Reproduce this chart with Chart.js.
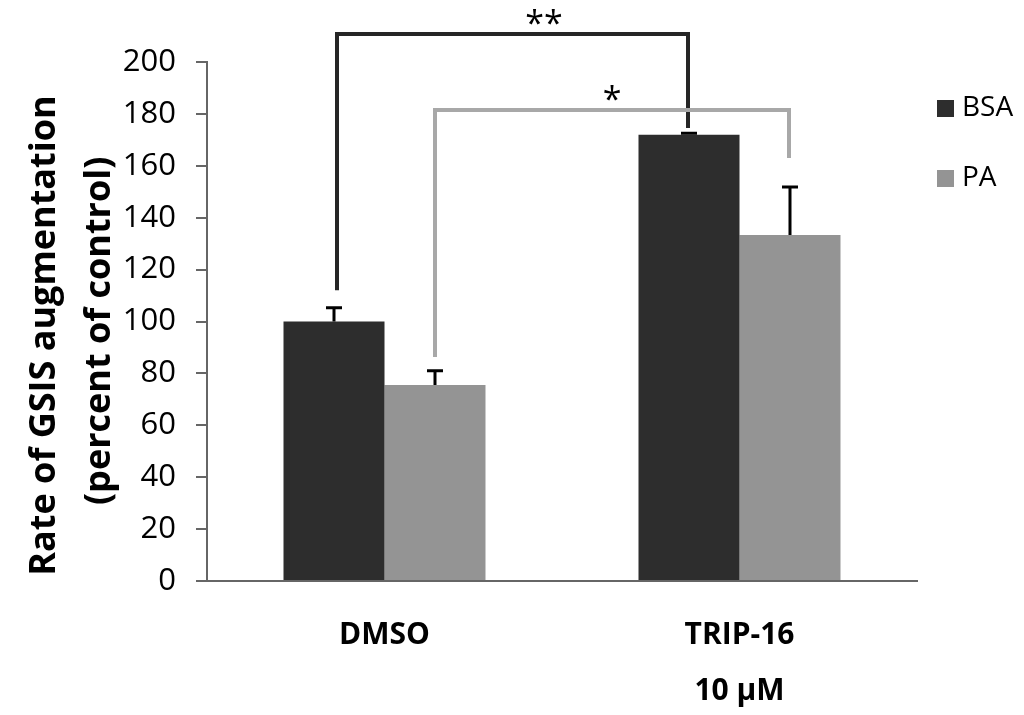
<!DOCTYPE html>
<html>
<head>
<meta charset="utf-8">
<script src="https://cdn.jsdelivr.net/npm/chart.js@4.4.0/dist/chart.umd.min.js"></script>
<style>
  html, body { margin: 0; padding: 0; background: #fff; }
  #wrap { width: 1024px; height: 715px; }
</style>
</head>
<body>
<div id="wrap"><canvas id="gsis" width="1024" height="715"></canvas></div>
<script>
// data
const groups = [['DMSO'], ['TRIP-16', '10 μM']];
const seriesNames = ['BSA', 'PA'];
const bsaValues = [100, 172];
const paValues = [75.5, 133.3];
const bsaErr = [5.3, 0.5];
const paErr = [5.5, 18.5];
const yTicks = [0, 20, 40, 60, 80, 100, 120, 140, 160, 180, 200];

// significance brackets: [dataset, bar] at each end, heights in axis units
const sigFrom = [[0, 0], [1, 0]];
const sigTo = [[0, 1], [1, 1]];
const sigLeftY = [112, 86.3];
const sigTopY = [210.8, 181.5];
const sigRightY = [174.6, 163];
const sigMarks = ['**', '*'];

const barColors = ['#2d2d2d', '#949494'];
const sigColors = ['#262626', '#a8a8a8'];
const sigMarkAt = [0.59, 0.5]; // where the stars sit along each bracket
const errSets = [bsaErr, paErr];
const FONT = "'Open Sans', 'Noto Sans', sans-serif";

const errorBars = {
  id: 'errorBars',
  afterDatasetsDraw(chart) {
    const ctx = chart.ctx;
    const y = chart.scales.y;
    ctx.save();
    ctx.strokeStyle = '#000';
    ctx.lineWidth = 3;
    chart.data.datasets.forEach((ds, di) => {
      const meta = chart.getDatasetMeta(di);
      meta.data.forEach((bar, i) => {
        const top = y.getPixelForValue(ds.data[i] + errSets[di][i]);
        ctx.beginPath();
        ctx.moveTo(bar.x, bar.y);
        ctx.lineTo(bar.x, top);
        ctx.moveTo(bar.x - 8, top);
        ctx.lineTo(bar.x + 8, top);
        ctx.stroke();
      });
    });
    ctx.restore();
  }
};

const brackets = {
  id: 'brackets',
  afterDatasetsDraw(chart) {
    const ctx = chart.ctx;
    const y = chart.scales.y;
    ctx.save();
    sigMarks.forEach((mark, k) => {
      const a = chart.getDatasetMeta(sigFrom[k][0]).data[sigFrom[k][1]];
      const b = chart.getDatasetMeta(sigTo[k][0]).data[sigTo[k][1]];
      const x1 = a.x + (k === 0 ? 3 : 0);
      const x2 = b.x - 1;
      const top = y.getPixelForValue(sigTopY[k]);
      ctx.strokeStyle = sigColors[k];
      ctx.lineWidth = 4;
      ctx.beginPath();
      ctx.moveTo(x1, y.getPixelForValue(sigLeftY[k]));
      ctx.lineTo(x1, top);
      ctx.lineTo(x2, top);
      ctx.lineTo(x2, y.getPixelForValue(sigRightY[k]));
      ctx.stroke();
      ctx.fillStyle = '#000';
      ctx.font = '34px ' + FONT;
      ctx.textAlign = 'center';
      ctx.textBaseline = 'bottom';
      ctx.fillText(mark, x1 + (x2 - x1) * sigMarkAt[k], top + 8);
    });
    ctx.restore();
  }
};

// legend drawn at the right of the plot from the dataset labels and colours
const sideLegend = {
  id: 'sideLegend',
  afterDraw(chart) {
    const ctx = chart.ctx;
    const area = chart.chartArea;
    ctx.save();
    ctx.font = '28px ' + FONT;
    ctx.textBaseline = 'middle';
    ctx.textAlign = 'left';
    chart.data.datasets.forEach((ds, i) => {
      const cy = 108 + i * 70;
      ctx.fillStyle = ds.backgroundColor;
      ctx.fillRect(area.right + 20, cy - 8, 17, 17);
      ctx.fillStyle = '#000';
      ctx.fillText(ds.label, area.right + 45, cy);
    });
    ctx.restore();
  }
};

new Chart(document.getElementById('gsis'), {
  type: 'bar',
  data: {
    labels: groups,
    datasets: [
      { label: seriesNames[0], data: bsaValues, backgroundColor: barColors[0] },
      { label: seriesNames[1], data: paValues, backgroundColor: barColors[1] }
    ]
  },
  options: {
    responsive: false,
    animation: false,
    devicePixelRatio: 1,
    layout: { padding: { top: 62, right: 107, left: 0, bottom: 0 } },
    datasets: { bar: { categoryPercentage: 0.569, barPercentage: 1.0 } },
    plugins: {
      legend: { display: false },
      tooltip: { enabled: false }
    },
    scales: {
      x: {
        grid: { display: false, drawTicks: false },
        border: { color: '#666', width: 2 },
        ticks: {
          color: '#000',
          padding: 26,
          font: { family: FONT, size: 30, weight: 'bold', lineHeight: 1.87 }
        },
        afterFit(scale) { scale.height = 134; }
      },
      y: {
        min: 0,
        max: 200,
        afterBuildTicks(scale) { scale.ticks = yTicks.map(v => ({ value: v })); },
        grid: { display: true, drawOnChartArea: false, drawTicks: true, tickLength: 11, color: '#666', lineWidth: 2 },
        border: { color: '#666', width: 2 },
        ticks: {
          color: '#000',
          padding: 20,
          font: { family: FONT, size: 31 }
        },
        title: {
          display: true,
          text: ['Rate of GSIS augmentation   ', '(percent of control)  '],
          color: '#000',
          padding: { top: 17, bottom: 0 },
          font: { family: FONT, size: 36, weight: 'bold', lineHeight: 1.53 }
        },
        afterFit(scale) { scale.width = 207; }
      }
    }
  },
  plugins: [errorBars, brackets, sideLegend]
});
</script>
</body>
</html>
